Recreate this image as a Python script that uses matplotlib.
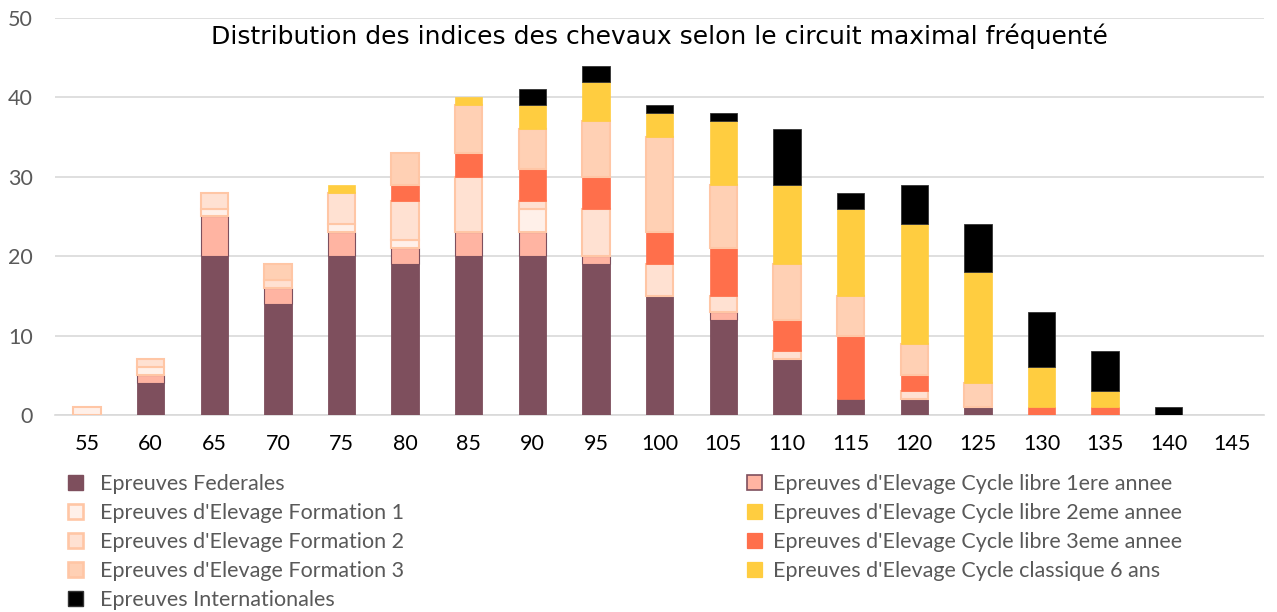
import numpy as np
import matplotlib
matplotlib.use("Agg")
import matplotlib.pyplot as plt
from matplotlib.patches import Patch

plt.rcParams["font.family"] = ["Lato", "DejaVu Sans"]

# indices (categories on the x axis)
indices = [55, 60, 65, 70, 75, 80, 85, 90, 95, 100, 105, 110, 115, 120, 125, 130, 135, 140, 145]

# number of horses per series, stacked bottom to top in this order
federales = [0, 4, 20, 14, 20, 19, 20, 20, 19, 15, 12, 7, 2, 2, 1, 0, 0, 0, 0]
cl_1ere = [0, 1, 5, 2, 3, 2, 3, 3, 1, 0, 1, 0, 0, 0, 0, 0, 0, 0, 0]
formation_1 = [1, 1, 1, 0, 1, 1, 0, 3, 0, 0, 0, 0, 0, 0, 0, 0, 0, 0, 0]
cl_2eme = [0, 0, 0, 0, 0, 0, 0, 0, 0, 0, 0, 0, 0, 0, 0, 0, 0, 0, 0]
formation_2 = [0, 1, 2, 1, 4, 5, 7, 1, 6, 4, 2, 1, 0, 1, 0, 0, 0, 0, 0]
cl_3eme = [0, 0, 0, 0, 0, 2, 3, 4, 4, 4, 6, 4, 8, 2, 0, 1, 1, 0, 0]
formation_3 = [0, 0, 0, 2, 0, 4, 6, 5, 7, 12, 8, 7, 5, 4, 3, 0, 0, 0, 0]
classique_6 = [0, 0, 0, 0, 1, 0, 1, 3, 5, 3, 8, 10, 11, 15, 14, 5, 2, 0, 0]
internationales = [0, 0, 0, 0, 0, 0, 0, 2, 2, 1, 1, 7, 2, 5, 6, 7, 5, 1, 0]

MAUVE = "#7E4F5D"
PEACH_EDGE = "#FFC6A5"

# (label, values, face, edge, edge width)
series = [
    ("Epreuves Federales", federales, MAUVE, MAUVE, 0.6),
    ("Epreuves d'Elevage Cycle libre 1ere annee", cl_1ere, "#FFB4A2", MAUVE, 0.8),
    ("Epreuves d'Elevage Formation 1", formation_1, "#FFF0E9", PEACH_EDGE, 1.5),
    ("Epreuves d'Elevage Cycle libre 2eme annee", cl_2eme, "#FFCD40", "#FFCD40", 0.5),
    ("Epreuves d'Elevage Formation 2", formation_2, "#FFE1D2", PEACH_EDGE, 1.5),
    ("Epreuves d'Elevage Cycle libre 3eme annee", cl_3eme, "#FF6F4B", "#FF6F4B", 0.5),
    ("Epreuves d'Elevage Formation 3", formation_3, "#FFD0B4", PEACH_EDGE, 1.5),
    ("Epreuves d'Elevage Cycle classique 6 ans", classique_6, "#FFCD40", "#FFCD40", 0.5),
    ("Epreuves Internationales", internationales, "#000000", "#333333", 0.6),
]

fig = plt.figure(figsize=(12.77, 6.12), dpi=100)
ax = fig.add_axes([0.0432, 0.3219, 0.9468, 0.6487])

x = np.arange(len(indices))
bottom = np.zeros(len(indices))
handles = {}
for label, vals, face, edge, lw in series:
    vals = np.array(vals, dtype=float)
    nz = vals > 0  # skip empty segments so no stray edges are drawn
    if nz.any():
        ax.bar(x[nz], vals[nz], width=0.43, bottom=bottom[nz], color=face,
               edgecolor=edge, linewidth=lw, zorder=3)
    bottom += vals
    handles[label] = Patch(facecolor=face, edgecolor=edge, linewidth=lw + 0.4, label=label)

ax.set_xlim(-0.5, len(indices) - 0.5)
ax.set_ylim(0, 50)
ax.set_yticks(range(0, 51, 10))
ax.set_xticks(x)
ax.set_xticklabels([str(v) for v in indices])
ax.grid(axis="y", color="#D9D9D9", linewidth=1.2, zorder=0)
for s in ["top", "right", "left"]:
    ax.spines[s].set_visible(False)
ax.spines["bottom"].set_color("#D9D9D9")
ax.spines["bottom"].set_linewidth(1.2)
ax.tick_params(axis="both", length=0)
ax.tick_params(axis="x", labelsize=15.5, labelcolor="black", pad=14)
ax.tick_params(axis="y", labelsize=15.5, labelcolor="#595959", pad=16)

ax.text(0.5, 0.9345, "Distribution des indices des chevaux selon le circuit maximal fréquenté",
        transform=ax.transAxes, ha="center", va="baseline", fontsize=18,
        color="black", family=["DejaVu Sans"])

left_labels = ["Epreuves Federales", "Epreuves d'Elevage Formation 1",
               "Epreuves d'Elevage Formation 2", "Epreuves d'Elevage Formation 3",
               "Epreuves Internationales"]
right_labels = ["Epreuves d'Elevage Cycle libre 1ere annee",
                "Epreuves d'Elevage Cycle libre 2eme annee",
                "Epreuves d'Elevage Cycle libre 3eme annee",
                "Epreuves d'Elevage Cycle classique 6 ans"]

common = dict(frameon=False, fontsize=15.5, handlelength=0.7, handleheight=0.7,
              labelspacing=0.42, labelcolor="#595959", borderaxespad=0, borderpad=0)
leg1 = fig.legend(handles=[handles[l] for l in left_labels], loc="upper left",
                  bbox_to_anchor=(0.053, 0.226), handletextpad=0.8, **common)
leg2 = fig.legend(handles=[handles[l] for l in right_labels], loc="upper left",
                  bbox_to_anchor=(0.585, 0.226), handletextpad=0.5, **common)

fig.savefig("out.png", dpi=100)
